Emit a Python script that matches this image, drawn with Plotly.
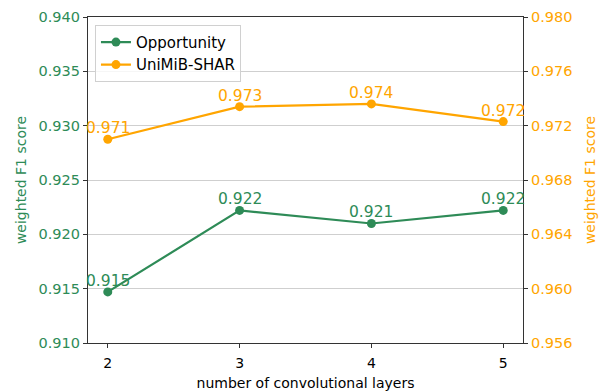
import plotly.graph_objects as go

# Number of convolutional layers vs. weighted F1 score on two datasets
layers = [2, 3, 4, 5]
opportunity_f1 = [0.9147, 0.9222, 0.9210, 0.9222]
unimib_f1 = [0.9710, 0.9734, 0.9736, 0.9723]

left_ticks = [0.910, 0.915, 0.920, 0.925, 0.930, 0.935, 0.940]
right_ticks = [0.956, 0.960, 0.964, 0.968, 0.972, 0.976, 0.980]

GREEN = "#2e8b57"
ORANGE = "#ffa500"
FONT = "DejaVu Sans"

fig = go.Figure()

fig.add_trace(go.Scatter(
    x=layers, y=opportunity_f1, name="Opportunity",
    mode="lines+markers",
    line=dict(color=GREEN, width=2.2),
    marker=dict(color=GREEN, size=9),
    yaxis="y",
))

fig.add_trace(go.Scatter(
    x=layers, y=unimib_f1, name="UniMiB-SHAR",
    mode="lines+markers",
    line=dict(color=ORANGE, width=2.2),
    marker=dict(color=ORANGE, size=9),
    yaxis="y2",
))

# value labels sitting just above each point
for values, yref, color in [(opportunity_f1, "y", GREEN), (unimib_f1, "y2", ORANGE)]:
    for x, v in zip(layers, values):
        fig.add_annotation(
            x=x, y=v, xref="x", yref=yref,
            text=f"{v:.3f}", showarrow=False,
            xanchor="center", yanchor="bottom", yshift=0,
            font=dict(color=color, size=15.5, family=FONT),
        )

fig.update_layout(
    width=603, height=392,
    margin=dict(l=88, r=80, t=17, b=49, autoexpand=False),
    paper_bgcolor="white", plot_bgcolor="white",
    font=dict(family=FONT, size=14, color="black"),
    showlegend=True,
    legend=dict(
        x=0.016, y=0.976, xanchor="left", yanchor="top",
        bgcolor="rgba(255,255,255,0.8)", bordercolor="#d0d0d0", borderwidth=1,
        font=dict(size=15, family=FONT),
        tracegroupgap=0,
    ),
    xaxis=dict(
        range=[1.85, 5.15], automargin=False,
        tickvals=layers, ticktext=[str(v) for v in layers],
        showgrid=False, zeroline=False,
        showline=True, linecolor="#333333", linewidth=1.2, mirror=True,
        ticks="outside", ticklen=4, tickcolor="#333333",
        ticklabelstandoff=3,
        tickfont=dict(size=14, color="black"),
        title=dict(text="number of convolutional layers", font=dict(size=14), standoff=8),
    ),
    yaxis=dict(
        range=[0.910, 0.940], automargin=False,
        tickvals=left_ticks, ticktext=[f"{v:.3f}" for v in left_ticks],
        showgrid=True, gridcolor="#cfcfcf", gridwidth=1.2, zeroline=False,
        showline=True, linecolor="#333333", linewidth=1.2,
        ticks="outside", ticklen=4, tickcolor="#333333",
        tickfont=dict(size=14.5, color=GREEN),
        title=dict(text="weighted F1 score", font=dict(size=14, color=GREEN), standoff=8),
    ),
    yaxis2=dict(
        range=[0.956, 0.980], overlaying="y", side="right", automargin=False,
        tickvals=right_ticks, ticktext=[f"{v:.3f}" for v in right_ticks],
        showgrid=False, zeroline=False,
        showline=True, linecolor="#333333", linewidth=1.2,
        ticks="outside", ticklen=4, tickcolor="#333333",
        tickfont=dict(size=14.5, color=ORANGE),
        title=dict(text="weighted F1 score", font=dict(size=14, color=ORANGE), standoff=13),
    ),
)

fig.write_html("out.html")
